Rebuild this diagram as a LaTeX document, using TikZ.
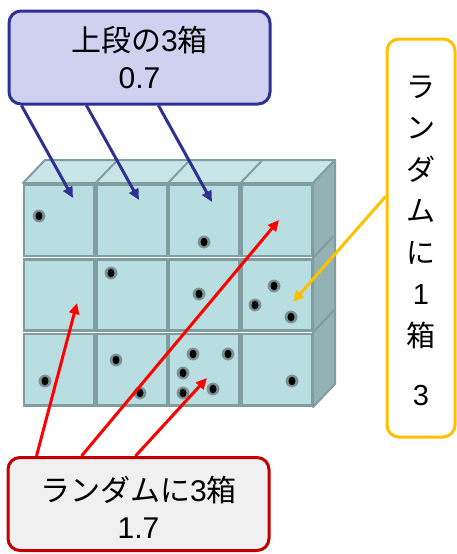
\documentclass[tikz,border=0pt]{standalone}
\usepackage{fontspec}
\setmainfont{Liberation Sans}
\newfontfamily\jp{Noto Sans CJK JP}
\usetikzlibrary{arrows.meta,calc}
\definecolor{cellfill}{RGB}{185,222,226}
\definecolor{topfill}{RGB}{200,229,231}
\definecolor{sidefill}{RGB}{148,178,180}
\definecolor{cellline}{RGB}{128,158,160}
\definecolor{halo}{RGB}{122,146,148}
\definecolor{navy}{RGB}{46,49,146}
\definecolor{lavender}{RGB}{208,208,240}
\definecolor{darkred}{RGB}{192,0,0}
\definecolor{paleg}{RGB}{240,240,240}
\definecolor{amber}{RGB}{255,192,0}
\tikzset{
  labelbox/.style={draw, line width=3pt, rounded corners=12pt, inner sep=0pt,
    align=center, font=\fontsize{30}{37}\selectfont},
  topbox/.style={labelbox, draw=navy, fill=lavender, minimum width=261pt, minimum height=93pt},
  botbox/.style={labelbox, draw=darkred, fill=paleg, minimum width=261pt, minimum height=93pt},
  sidebox/.style={labelbox, draw=amber, fill=white, minimum width=68pt, minimum height=398pt},
  vtext/.style={align=center, inner sep=0pt, font=\fontsize{29}{41.5}\selectfont},
  pointer/.style={line width=3pt, -{Triangle[length=11pt,width=10pt]}},
  cell/.style={fill=cellfill, draw=cellline, line width=2.5pt},
  face/.style={draw=cellline, line width=2pt, line join=round},
}
\begin{document}
\begin{tikzpicture}[x=1pt,y=-1pt]
\useasboundingbox (0,0) rectangle (456,554);

% ---- stacked boxes: top face, side face, front cells ----
\filldraw[face, fill=topfill] (23,183) -- (45,160) -- (335,160) -- (313,183) -- cycle;
\foreach \x in {95.5,168,240.5}
  \draw[face] (\x,183) -- ++(22,-23);
\filldraw[face, fill=sidefill] (313,183) -- (335,160) -- (335,384) -- (313,407) -- cycle;
\foreach \y in {257.7,332.3}
  \draw[face] (313,\y) -- ++(22,-23);
\foreach \i in {0,1,2,3}
  \foreach \j in {0,1,2}
    \filldraw[cell] ({23+72.5*\i+1},{183+74.67*\j+1.6}) rectangle ({23+72.5*(\i+1)-1},{183+74.67*(\j+1)-1.6});

% ---- grains ----
\foreach \p in {(39,216),(204,242),(111,273),(199,294),(274,286),(255,305),(291,317),
  (45,381),(116,360),(140,393),(193,354),(228,354),(183,373),(183,393),(213,389),(292,381)}{
  \fill[halo] \p circle (6.4);
  \fill[black] \p ellipse (3.5 and 4.3);
}

% ---- label boxes ----
\node[topbox] (top) at (139.5,57.5) {{\jp 上段の}3{\jp 箱}\\0.7};
\node[botbox] (bot) at (138.5,504) {};
\node (btext) at (138.5,507) [align=center, inner sep=0pt, font=\fontsize{30}{37}\selectfont]
  {{\jp ランダムに}3{\jp 箱}\\1.7};
\node[sidebox] (rbox) at (421,238) {};
\node[vtext] (rtext) at (421,241) {{\jp ラ}\\{\jp ン}\\{\jp ダ}\\{\jp ム}\\{\jp に}\\1\\{\jp 箱}\\[18pt]3};

% ---- pointer ends ----
\coordinate (b1) at (73,198);
\coordinate (b2) at (139,200);
\coordinate (b3) at (212,202);
\coordinate (r1) at (77,303);
\coordinate (r2) at (279,220);
\coordinate (r3) at (207,378);
\coordinate (y1) at (293,302);

% ---- pointers ----
\draw[pointer, navy] ($(top.south west)+(14,0)$) -- (b1);
\draw[pointer, navy] ($(top.south west)+(79,0)$) -- (b2);
\draw[pointer, navy] ($(top.south west)+(151,0)$) -- (b3);
\draw[pointer, red] ($(bot.north west)+(30,0)$) -- (r1);
\draw[pointer, red] ($(bot.north west)+(75,0)$) -- (r2);
\draw[pointer, red] ($(bot.north west)+(129,0)$) -- (r3);
\draw[pointer, amber] ($(rbox.north west)+(0,159)$) -- (y1);
\end{tikzpicture}
\end{document}
